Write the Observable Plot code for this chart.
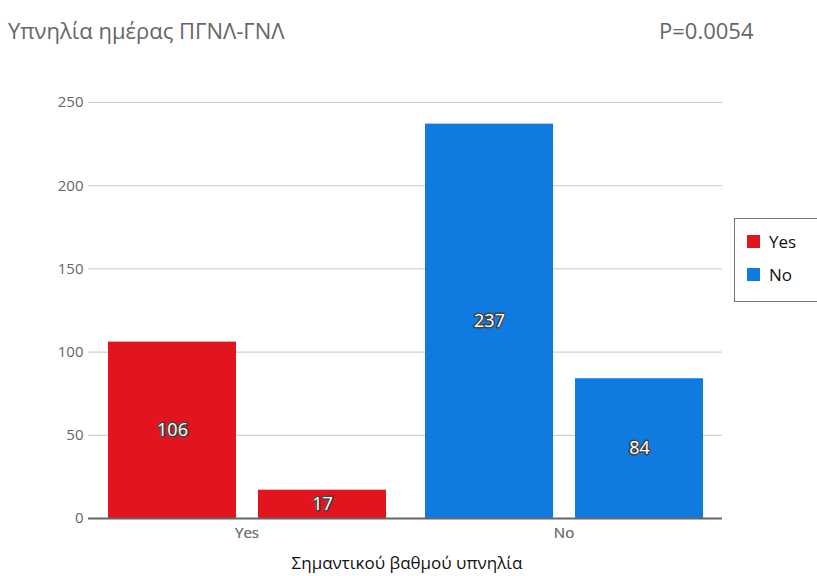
<!DOCTYPE html>
<html>
<head>
<meta charset="utf-8">
<script src="https://cdn.jsdelivr.net/npm/d3@7"></script>
<script src="https://cdn.jsdelivr.net/npm/@observablehq/plot@0.6"></script>
<style>
  body { margin: 0; background: #fff; font-family: "Open Sans", sans-serif; }
  #wrap { position: relative; width: 817px; height: 576px; overflow: hidden; }
  #title { position: absolute; left: 8px; top: 15px; font-size: 22px; color: #666; white-space: nowrap; }
  #pval { position: absolute; left: 659px; top: 15px; font-size: 22px; color: #666; white-space: nowrap; }
  #chart { position: absolute; left: 0; top: 80px; }
  #xlabel { position: absolute; left: 0; width: 814px; top: 551px; text-align: center; font-size: 17px; color: #111; }
  #legend { position: absolute; left: 734px; top: 218px; width: 100px; height: 84px; border: 1px solid #777; box-sizing: border-box; background: #fff; }
  .li { position: absolute; left: 12px; font-size: 17px; color: #111; display: flex; align-items: center; }
  .sw { width: 13px; height: 13px; margin-right: 9px; display: inline-block; }
</style>
</head>
<body>
<div id="wrap">
  <div id="title">Υπνηλία ημέρας ΠΓΝΛ-ΓΝΛ</div>
  <div id="pval">P=0.0054</div>
  <div id="chart"></div>
  <div id="xlabel">Σημαντικού βαθμού υπνηλία</div>
  <div id="legend"></div>
</div>
<script>
const groups = ["Yes", "No"];
const hospitals = ["ΠΓΝΛ", "ΓΝΛ"];
const yesValues = [106, 17];
const noValues = [237, 84];
const yTicks = [0, 50, 100, 150, 200, 250];
const colors = ["#E2151E", "#0F7BE0"];

const data = [];
hospitals.forEach((h, i) => data.push({group: "Yes", hospital: h, value: yesValues[i]}));
hospitals.forEach((h, i) => data.push({group: "No", hospital: h, value: noValues[i]}));

const chart = Plot.plot({
  width: 817,
  height: 496,
  marginLeft: 88,
  marginRight: 95,
  marginTop: 22,
  marginBottom: 58,
  style: {fontFamily: "Open Sans, sans-serif", fontSize: "15px", color: "#666", background: "transparent"},
  fx: {domain: groups, padding: 0, label: null, axis: "bottom"},
  x: {domain: hospitals, paddingInner: 0.147, paddingOuter: 0.13, axis: null},
  y: {domain: [0, 250], label: null},
  color: {domain: groups, range: colors},
  marks: [
    Plot.gridY(yTicks, {stroke: "#c8c8c8", strokeOpacity: 1, strokeWidth: 1}),
    Plot.axisY({ticks: yTicks, tickSize: 0, tickPadding: 5, label: null, fill: "#666", fontSize: 15}),
    Plot.axisFx({anchor: "bottom", tickSize: 0, tickPadding: 9, label: null, fill: "#777", fontSize: 15}),
    Plot.barY(data, {fx: "group", x: "hospital", y: "value", fill: "group",
      style: "filter: drop-shadow(2px 1px 2px rgba(0,0,0,0.35))"}),
    Plot.ruleY([0], {stroke: "#666", strokeWidth: 2}),
    Plot.text(data, {fx: "group", x: "hospital", y: d => d.value / 2, text: d => String(d.value),
      fill: "white", stroke: "#444", strokeWidth: 3, paintOrder: "stroke", fontSize: 18})
  ]
});
document.getElementById("chart").appendChild(chart);

const legend = document.getElementById("legend");
groups.forEach((g, i) => {
  const item = document.createElement("div");
  item.className = "li";
  item.style.top = (11 + i * 33) + "px";
  item.innerHTML = `<span class="sw" style="background:${colors[i]}"></span>${g}`;
  legend.appendChild(item);
});
</script>
</body>
</html>
